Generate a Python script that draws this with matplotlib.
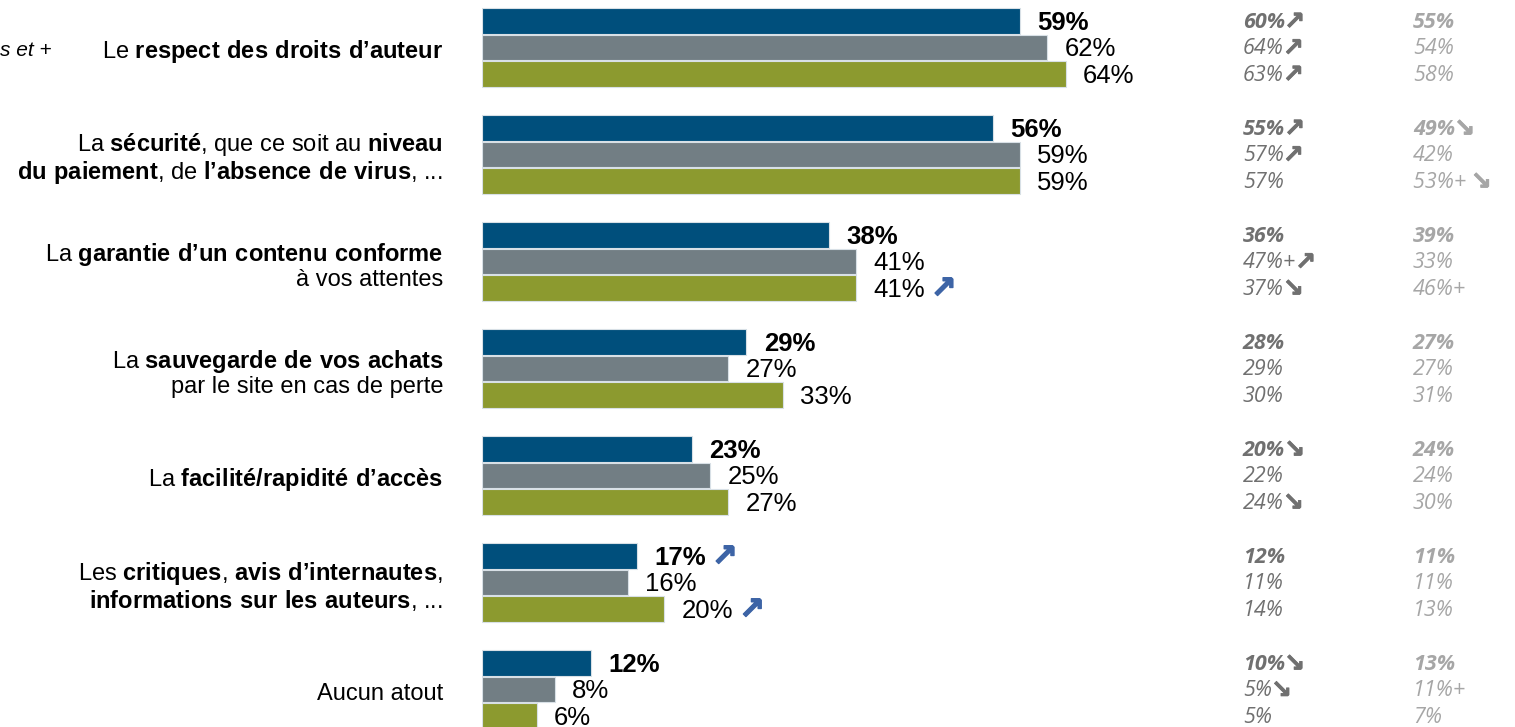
import matplotlib
matplotlib.use("Agg")
import matplotlib.pyplot as plt
import matplotlib.transforms as mtransforms
import matplotlib.patheffects as pe
import numpy as np

plt.rcParams["mathtext.fontset"] = "custom"
plt.rcParams["mathtext.rm"] = "Liberation Sans"
plt.rcParams["mathtext.bf"] = "Liberation Sans:bold"
plt.rcParams["font.family"] = ["Liberation Sans", "DejaVu Sans"]

# category labels (mathtext bold for the key words)
labels = [
    r"Le $\mathbf{respect\ des\ droits\ d’auteur}$",
    "La $\\mathbf{sécurité}$, que ce soit au $\\mathbf{niveau}$\n"
    "$\\mathbf{du\\ paiement}$, de $\\mathbf{l’absence\\ de\\ virus}$, ...",
    "La $\\mathbf{garantie\\ d’un\\ contenu\\ conforme}$\nà vos attentes",
    "La $\\mathbf{sauvegarde\\ de\\ vos\\ achats}$\npar le site en cas de perte",
    r"La $\mathbf{facilité/rapidité\ d’accès}$",
    "Les $\\mathbf{critiques}$, $\\mathbf{avis\\ d’internautes}$,\n"
    "$\\mathbf{informations\\ sur\\ les\\ auteurs}$, ...",
    "Aucun atout",
]

blue_vals = [59, 56, 38, 29, 23, 17, 12]
gray_vals = [62, 59, 41, 27, 25, 16, 8]
green_vals = [64, 59, 41, 33, 27, 20, 6]

# blue up-arrows next to value labels: (group, series)
arrow_marks = [(2, 2), (5, 0), (5, 2)]

# comparison columns on the right
col1 = [
    ["60%↗", "64%↗", "63%↗"],
    ["55%↗", "57%↗", "57%"],
    ["36%", "47%+↗", "37%↘"],
    ["28%", "29%", "30%"],
    ["20%↘", "22%", "24%↘"],
    ["12%", "11%", "14%"],
    ["10%↘", "5%↘", "5%"],
]
col2 = [
    ["55%", "54%", "58%"],
    ["49%↘", "42%", "53%+ ↘"],
    ["39%", "33%", "46%+"],
    ["27%", "27%", "31%"],
    ["24%", "24%", "30%"],
    ["11%", "11%", "13%"],
    ["13%", "11%+", "7%"],
]

colors = ["#004f7c", "#727e84", "#8c9a2f"]
W, H = 1515, 727
PX_PER_PCT = 9.12
GROUP_PX = 107.0

fig = plt.figure(figsize=(W / 100, H / 100), dpi=100)
ax_left = 482 / W
ax = fig.add_axes([ax_left, 0, 1 - ax_left, 1])
ax.set_xlim(0, (W - 482) / PX_PER_PCT)
ax.set_ylim((H - 47.5) / GROUP_PX, -47.5 / GROUP_PX)
ax.axis("off")

bar_h = 25.5 / GROUP_PX
step = 26.5 / GROUP_PX
y = np.arange(len(labels))
series = [blue_vals, gray_vals, green_vals]

value_texts = {}
for j, vals in enumerate(series):
    yy = y + (j - 1) * step
    ax.barh(yy, vals, height=bar_h, color=colors[j],
            edgecolor="#d8e0e6", linewidth=0.8)
    for i, v in enumerate(vals):
        t = ax.text(v + 1.9, yy[i] + 0.015, f"{v}%", va="center", ha="left",
                    fontsize=18.5, fontweight="bold" if j == 0 else "normal",
                    color="black")
        value_texts[(i, j)] = t

blend = mtransforms.blended_transform_factory(fig.transFigure, ax.transData)
for i, lab in enumerate(labels):
    ax.text(443 / W, i + 0.04, lab, transform=blend, ha="right", va="center",
            fontsize=17, linespacing=1.03, color="black")

ax.text(0, 0.03, "s et +", transform=blend, ha="left", va="center",
        fontsize=15, style="italic", color="black")

# right-hand columns: number text, arrows drawn separately (thicker)
col_arrows = []
for col, xpx, c in [(col1, 1243, "#707070"), (col2, 1413, "#a6a6a6")]:
    for i in range(len(labels)):
        for j in range(3):
            yy = i + (j - 1) * step + 0.01
            w = "bold" if j == 0 else "normal"
            s = col[i][j]
            arrow = ""
            if s and s[-1] in "↗↘":
                arrow = s[-1]
                s = s[:-1]
            t = ax.text(xpx / W, yy, s, transform=blend, ha="left",
                        va="center", fontsize=15.5, style="italic",
                        fontweight=w, color=c, family=["Open Sans"])
            if arrow:
                col_arrows.append((t, arrow, yy, c))

fig.canvas.draw()
renderer = fig.canvas.get_renderer()
inv = ax.transData.inverted()

for t, arrow, yy, c in col_arrows:
    bb = t.get_window_extent(renderer)
    x_data = inv.transform((bb.x1 - 1, bb.y0))[0]
    ax.text(x_data, yy, arrow, ha="left", va="center", fontsize=18,
            fontweight="bold", color=c, family=["DejaVu Sans"],
            path_effects=[pe.withStroke(linewidth=0.6, foreground=c)])

# blue arrows after some value labels
for (i, j) in arrow_marks:
    bb = value_texts[(i, j)].get_window_extent(renderer)
    x_data = inv.transform((bb.x1 + 6, bb.y0))[0]
    ax.text(x_data, i + (j - 1) * step + 0.01, "↗", ha="left", va="center",
            fontsize=22, fontweight="bold", color="#3d64a6",
            family=["DejaVu Sans"],
            path_effects=[pe.withStroke(linewidth=1.0, foreground="#3d64a6")])

fig.savefig("out.png", dpi=100)
